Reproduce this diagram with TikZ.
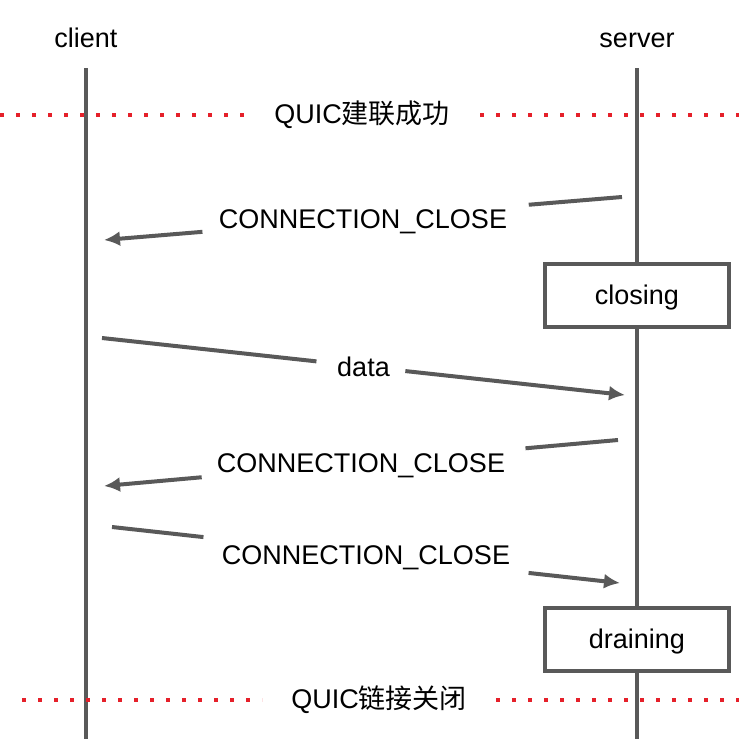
\documentclass[tikz,border=0pt]{standalone}
\usepackage{fontspec}
\setmainfont{Liberation Sans}
\newfontfamily\cjk{Noto Sans CJK SC}
\usetikzlibrary{arrows.meta,calc}

\definecolor{linegray}{HTML}{595959}
\definecolor{dotred}{HTML}{E5202A}

\begin{document}
\begin{tikzpicture}[x=1pt, y=-1pt,
    lifeline/.style={line width=4pt, draw=linegray},
    msgline/.style={line width=4pt, draw=linegray},
    msg/.style={msgline, -{Latex[length=16pt,width=15pt]}},
    txt/.style={font=\fontsize{27pt}{32pt}\selectfont, text=black},
    closelabel/.style={txt, yshift=-3pt},
    statebox/.style={txt, text depth=0pt, draw=linegray, line width=4pt, fill=white, minimum width=184pt, minimum height=63pt},
    phaseline/.style={line width=4pt, draw=dotred, dash pattern=on 4pt off 12pt}]

    % Fix the page to the size of the reference
    \useasboundingbox (0,0) rectangle (739,739);

    % Define the two parties
    \node[txt, anchor=base] (client) at (86,47) {client};
    \node[txt, anchor=base] (server) at (637,47) {server};

    % Ends of the lifelines
    \coordinate (ctop) at (86,68);
    \coordinate (cbot) at (86,739);
    \coordinate (stop) at (637,68);
    \coordinate (sbot) at (637,739);

    % Draw the lifelines
    \draw[lifeline] (ctop) -- (cbot);
    \draw[lifeline] (stop) -- (sbot);

    % Phase markers: connection established and connection closed
    \node[txt] (established) at (362,115) {QUIC{\cjk 建联成功}};
    \draw[phaseline] (0,115) -- (245,115);
    \draw[phaseline] (480,115) -- (739,115);

    \node[txt] (closed) at (379,700) {QUIC{\cjk 链接关闭}};
    \draw[phaseline] (22,700) -- (262,700);
    \draw[phaseline] (496,700) -- (739,700);

    % States of the server
    \node[statebox] (closing) at (637,295) {closing};
    \node[statebox] (draining) at (637,639) {draining};

    % Define the end points of the messages on the lifelines
    \coordinate (s1) at (622,197);
    \coordinate (c1) at (104,240);
    \coordinate (c2) at (102,338);
    \coordinate (s2) at (625,395);
    \coordinate (s3) at (618,440);
    \coordinate (c3) at (104,486);
    \coordinate (c4) at (112,527);
    \coordinate (s4) at (620,583);

    % Labels sit in the middle of each message, the line is broken round them
    \path (s1) -- node[closelabel] (close1) {CONNECTION\_CLOSE} (c1);
    \path (c2) -- node[txt] (data) {data} (s2);
    \path (s3) -- node[closelabel] (close2) {CONNECTION\_CLOSE} (c3);
    \path (c4) -- node[closelabel] (close3) {CONNECTION\_CLOSE} (s4);

    % Draw the messages
    \draw[msgline] (s1) -- ($(s1)!0.18!(c1)$);
    \draw[msg] ($(s1)!0.81!(c1)$) -- (c1);
    \draw[msgline] (c2) -- ($(c2)!0.41!(s2)$);
    \draw[msg] ($(c2)!0.58!(s2)$) -- (s2);
    \draw[msgline] (s3) -- ($(s3)!0.18!(c3)$);
    \draw[msg] ($(s3)!0.81!(c3)$) -- (c3);
    \draw[msgline] (c4) -- ($(c4)!0.18!(s4)$);
    \draw[msg] ($(c4)!0.82!(s4)$) -- (s4);

\end{tikzpicture}
\end{document}
